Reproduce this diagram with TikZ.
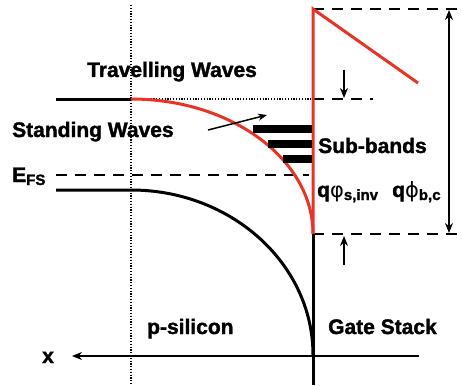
\documentclass[tikz,border=0pt]{standalone}
\usepackage{fontspec}
\setmainfont{Liberation Sans}
\newfontfamily\heavyfont[FakeBold=1.6]{Liberation Sans Bold}
\newfontfamily\greekfont{DejaVu Sans}
\usetikzlibrary{arrows.meta}
\definecolor{bandred}{RGB}{232,52,38}

\begin{document}
\begin{tikzpicture}[
    x=1pt, y=-1pt,
    lbl/.style={draw=none, anchor=base west, inner sep=0pt,
        font=\fontsize{21}{24}\heavyfont},
    band/.style={line width=3pt},
    redband/.style={line width=3pt, draw=bandred},
    dashln/.style={line width=1.8pt, dash pattern=on 11pt off 8pt},
    dotln/.style={line width=1.5pt, dash pattern=on 1.2pt off 1.6pt},
    subband/.style={line width=8pt},
    darrow/.style={-{Stealth[length=10pt, width=8pt]}, line width=1.5pt}
]
\newcommand{\sbs}[1]{\raisebox{-3pt}{\fontsize{15}{17}\selectfont #1}}
\useasboundingbox (0,0) rectangle (462,385);
% --- Reference points ---
\coordinate (dtop) at (131,5);
\coordinate (dbot) at (131,385);
\coordinate (cbl) at (56,99);
\coordinate (cbk) at (131,99);
\coordinate (vbl) at (56,190);
\coordinate (vbk) at (131,190);
\coordinate (vbend) at (313,355);
\coordinate (gtop) at (313,9);
\coordinate (gmid) at (313,234);
\coordinate (gbot) at (313,385);
\coordinate (gcb) at (313,99);
\coordinate (oxend) at (418,83);
\coordinate (ttop) at (462,9);
\coordinate (tbot) at (462,234);
\coordinate (cbr) at (373,99);
\coordinate (efl) at (56,175);
\coordinate (efr) at (309,175);
% --- Dotted guides ---
\draw[dotln] (dtop) -- (dbot);
\draw[dotln, line width=1.2pt] (cbk) -- (gcb);
% --- Dashed levels ---
\draw[dashln] (gtop) -- (ttop);
\draw[dashln] (gmid) -- (tbot);
\draw[dashln] (gcb) -- (cbr);
\draw[dashln] (efl) -- (efr);
% --- Bands ---
\draw[band] (cbl) -- (cbk);
\draw[redband] (cbk) .. controls (231.5,99) and (313,159.5) .. (gmid);
\draw[band] (vbl) -- (vbk) .. controls (231.5,190) and (313,264) .. (vbend);
% --- Gate stack ---
\draw[band] (gmid) -- (gbot);
\draw[redband] (gmid) -- (gtop) -- (oxend);
% --- Sub-bands ---
\foreach \i/\xs/\ys in {1/253/129, 2/268/144, 3/283/159} {
    \coordinate (sbl\i) at (\xs,\ys);
    \coordinate (sbr\i) at (311.5,\ys);
    \draw[subband] (sbl\i) -- (sbr\i);
}
% --- Arrows ---
\coordinate (dnA) at (344,70);
\coordinate (dnB) at (344,98);
\coordinate (upA) at (344,265);
\coordinate (upB) at (344,236);
\coordinate (dimT) at (449,10);
\coordinate (dimB) at (449,233);
\coordinate (swA) at (208,130);
\coordinate (swB) at (267,115);
\coordinate (axA) at (419,356);
\coordinate (axB) at (72,356);
\draw[darrow] (dnA) -- (dnB);
\draw[darrow] (upA) -- (upB);
\draw[darrow, {Stealth[length=10pt, width=8pt]}-{Stealth[length=10pt, width=8pt]}] (dimT) -- (dimB);
\draw[darrow, -{Stealth[length=9pt, width=7pt]}] (swA) -- (swB);
\draw[darrow, line width=1.3pt] (axA) -- (axB);
% --- Labels ---
\node[lbl] (trav) at (87,77) {Travelling Waves};
\node[lbl] (stand) at (12,137) {Standing Waves};
\node[lbl] (efs) at (12,182) {E\sbs{FS}};
\node[lbl] (subb) at (318,153) {Sub-bands};
\node[lbl] (phis) at (317,197) {q{\greekfont φ}\sbs{s,inv}};
\node[lbl] (phib) at (392,197) {q{\greekfont ϕ}\sbs{b,c}};
\node[lbl] (psi) at (147,334) {p-silicon};
\node[lbl] (gate) at (328,334) {Gate Stack};
\node[lbl] (xlbl) at (42,363) {x};
\end{tikzpicture}
\end{document}
